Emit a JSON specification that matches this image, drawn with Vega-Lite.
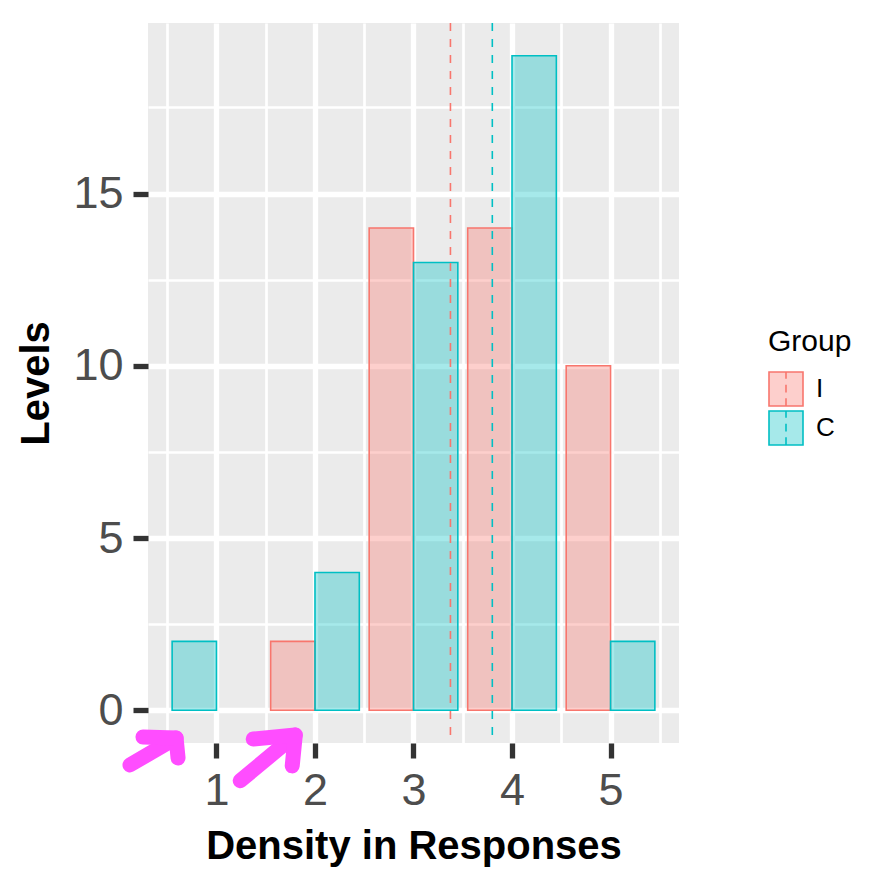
{
  "$schema": "https://vega.github.io/schema/vega-lite/v6.json",
  "width": 531,
  "height": 720,
  "autosize": {"type": "none"},
  "padding": {"left": 148, "top": 23, "right": 195, "bottom": 136},
  "background": "white",
  "config": {"view": {"fill": "#EBEBEB", "stroke": null}, "font": "Liberation Sans"},
  "datasets": {
    "counts": [
      {"level": 1, "group": "C", "count": 2},
      {"level": 2, "group": "I", "count": 2},
      {"level": 2, "group": "C", "count": 4},
      {"level": 3, "group": "I", "count": 14},
      {"level": 3, "group": "C", "count": 13},
      {"level": 4, "group": "I", "count": 14},
      {"level": 4, "group": "C", "count": 19},
      {"level": 5, "group": "I", "count": 10},
      {"level": 5, "group": "C", "count": 2}
    ],
    "means": [
      {"group": "I", "mean": 3.375},
      {"group": "C", "mean": 3.8}
    ],
    "arrows": [
      {"seg": "a1s", "ord": 1, "ax": 0.122, "ay": -1.585},
      {"seg": "a1s", "ord": 2, "ax": 0.59, "ay": -0.805},
      {"seg": "a1h", "ord": 1, "ax": 0.254, "ay": -0.777},
      {"seg": "a1h", "ord": 2, "ax": 0.59, "ay": -0.805},
      {"seg": "a1h", "ord": 3, "ax": 0.61, "ay": -1.383},
      {"seg": "a2s", "ord": 1, "ax": 1.241, "ay": -2.047},
      {"seg": "a2s", "ord": 2, "ax": 1.8, "ay": -0.719},
      {"seg": "a2h", "ord": 1, "ax": 1.373, "ay": -0.834},
      {"seg": "a2h", "ord": 2, "ax": 1.8, "ay": -0.719},
      {"seg": "a2h", "ord": 3, "ax": 1.769, "ay": -1.614}
    ]
  },
  "layer": [
    {
      "data": {"name": "counts"},
      "transform": [
        {"window": [{"op": "row_number", "as": "slot"}], "groupby": ["level"], "sort": [{"field": "group", "order": "descending"}]}
      ],
      "mark": {"type": "bar", "fillOpacity": 0.35, "strokeWidth": 1.6},
      "encoding": {
        "x": {"field": "level", "type": "ordinal", "scale": {"domain": [1, 2, 3, 4, 5], "paddingInner": 0.1, "paddingOuter": 0.245}, "axis": null},
        "xOffset": {"field": "slot", "type": "ordinal", "scale": {"domain": [1, 2], "paddingInner": 0, "paddingOuter": 0}},
        "y": {
          "field": "count", "type": "quantitative",
          "scale": {"domain": [-0.95, 19.95], "nice": false, "zero": false},
          "axis": {
            "values": [0, 2.5, 5, 7.5, 10, 12.5, 15, 17.5],
            "grid": true, "gridColor": "#FFFFFF",
            "gridWidth": {"condition": {"test": "datum.value % 5 !== 0", "value": 2.7}, "value": 5.3},
            "tickOpacity": {"condition": {"test": "datum.value % 5 !== 0", "value": 0}, "value": 1},
            "labelExpr": "datum.value % 5 === 0 ? format(datum.value, 'd') : ''",
            "domain": false, "tickColor": "#333333", "tickWidth": 5.3, "tickSize": 15,
            "labelFontSize": 45, "labelColor": "#4D4D4D", "labelPadding": 10,
            "labelFlush": false, "labelOverlap": false,
            "title": "Levels", "titleFontSize": 40, "titleFontWeight": "bold", "titleColor": "#000000", "titlePadding": 16
          }
        },
        "y2": {"datum": 0},
        "fill": {
          "field": "group", "type": "nominal",
          "scale": {"domain": ["I", "C"], "range": ["#F8766D", "#00BFC4"]},
          "legend": {
            "title": "Group", "orient": "none", "legendX": 620, "legendY": 304, "padding": 0,
            "titleFontSize": 30, "titleFontWeight": "normal", "titleColor": "#000000", "titlePadding": 14,
            "labelFontSize": 26, "labelColor": "#000000", "labelOffset": 12,
            "symbolType": "M-1,-1H1V1H-1Z M0,-1V-0.6 M0,-0.25V0.2 M0,0.55V0.95",
            "symbolSize": 1156, "symbolStrokeWidth": 1.6, "rowPadding": -8,
            "encode": {"symbols": {"update": {"fillOpacity": {"value": 0.35}}}}
          }
        },
        "stroke": {
          "field": "group", "type": "nominal",
          "scale": {"domain": ["I", "C"], "range": ["#F8766D", "#00BFC4"]},
          "legend": {
            "title": "Group", "orient": "none", "legendX": 620, "legendY": 304, "padding": 0,
            "titleFontSize": 30, "titleFontWeight": "normal", "titleColor": "#000000", "titlePadding": 14,
            "labelFontSize": 26, "labelColor": "#000000", "labelOffset": 12,
            "symbolType": "M-1,-1H1V1H-1Z M0,-1V-0.6 M0,-0.25V0.2 M0,0.55V0.95",
            "symbolSize": 1156, "symbolStrokeWidth": 1.6, "rowPadding": -8,
            "encode": {"symbols": {"update": {"fillOpacity": {"value": 0.35}}}}
          }
        }
      }
    },
    {
      "data": {"name": "means"},
      "mark": {"type": "rule", "strokeDash": [8, 8], "strokeWidth": 1.6},
      "encoding": {
        "x": {
          "field": "mean", "type": "quantitative",
          "scale": {"domain": [0.305, 5.695], "nice": false, "zero": false},
          "axis": {
            "orient": "bottom",
            "values": [0.5, 1, 1.5, 2, 2.5, 3, 3.5, 4, 4.5, 5, 5.5],
            "grid": true, "gridColor": "#FFFFFF",
            "gridWidth": {"condition": {"test": "datum.value % 1 !== 0", "value": 2.7}, "value": 5.3},
            "tickOpacity": {"condition": {"test": "datum.value % 1 !== 0", "value": 0}, "value": 1},
            "labelExpr": "datum.value % 1 === 0 ? format(datum.value, 'd') : ''",
            "domain": false, "tickColor": "#333333", "tickWidth": 5.3, "tickSize": 15,
            "labelFontSize": 45, "labelColor": "#4D4D4D", "labelPadding": 10,
            "labelFlush": false, "labelOverlap": false,
            "title": "Density in Responses", "titleFontSize": 40, "titleFontWeight": "bold", "titleColor": "#000000", "titlePadding": 13
          }
        },
        "stroke": {
          "field": "group", "type": "nominal",
          "scale": {"domain": ["I", "C"], "range": ["#F8766D", "#00BFC4"]},
          "legend": {
            "title": "Group", "orient": "none", "legendX": 620, "legendY": 304, "padding": 0,
            "titleFontSize": 30, "titleFontWeight": "normal", "titleColor": "#000000", "titlePadding": 14,
            "labelFontSize": 26, "labelColor": "#000000", "labelOffset": 12,
            "symbolType": "M-1,-1H1V1H-1Z M0,-1V-0.6 M0,-0.25V0.2 M0,0.55V0.95",
            "symbolSize": 1156, "symbolStrokeWidth": 1.6, "rowPadding": -8,
            "encode": {"symbols": {"update": {"fillOpacity": {"value": 0.35}}}}
          }
        }
      }
    },
    {
      "data": {"name": "arrows"},
      "mark": {"type": "line", "strokeWidth": 15, "strokeCap": "round", "strokeJoin": "round", "color": "#FF4DFF", "clip": false},
      "encoding": {
        "x": {"field": "ax", "type": "quantitative", "scale": {"domain": [0.305, 5.695], "nice": false, "zero": false}, "axis": null},
        "y": {"field": "ay", "type": "quantitative", "title": "Levels"},
        "detail": {"field": "seg", "type": "nominal"},
        "order": {"field": "ord", "type": "quantitative"}
      }
    }
  ],
  "resolve": {"scale": {"x": "independent"}}
}
